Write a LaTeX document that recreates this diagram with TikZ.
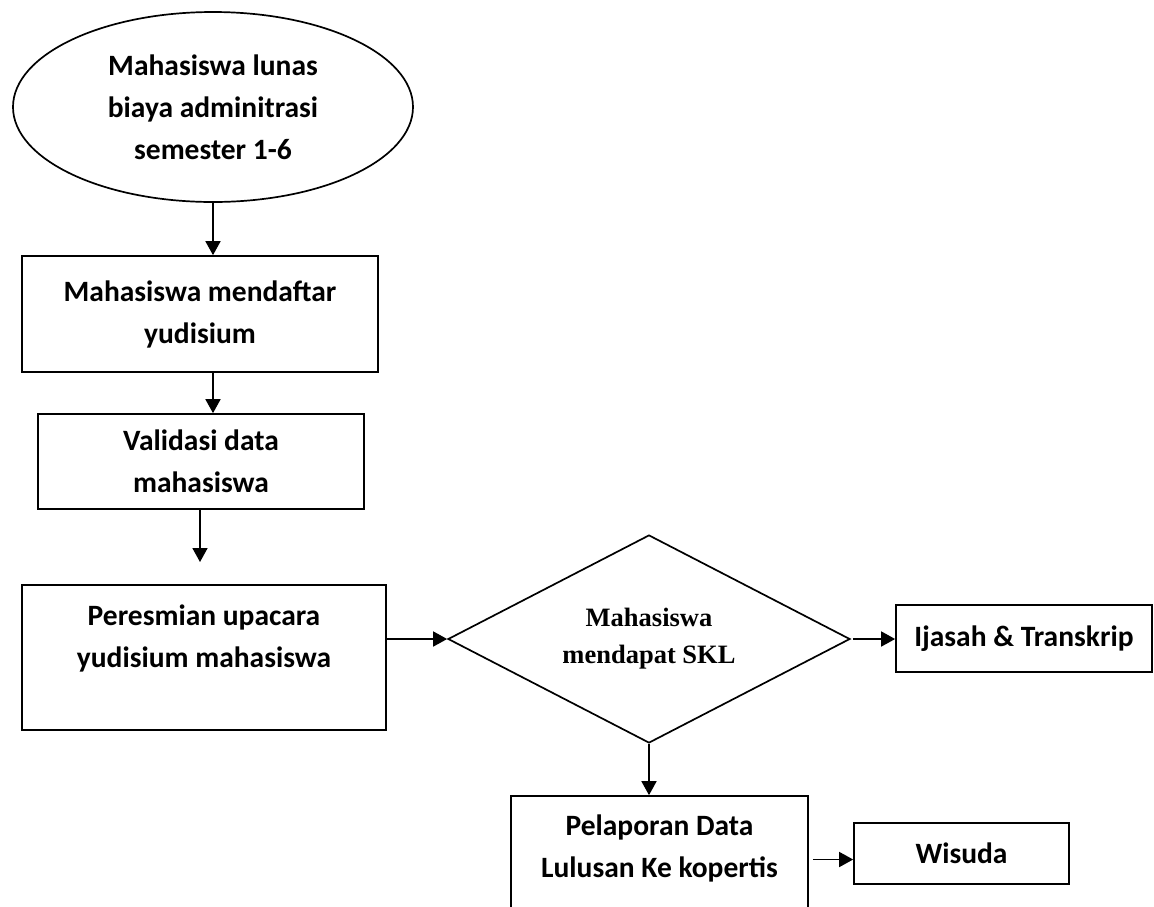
\documentclass[tikz,border=0pt]{standalone}
\usepackage{fontspec}
\setmainfont{Carlito}
\newfontfamily\fonttimes{Liberation Serif}
\usetikzlibrary{positioning,shapes.geometric,arrows.meta}

\tikzset{
    kotak/.style={draw, rectangle, line width=1.7pt, inner sep=0pt, align=center,
        font=\fontsize{29.5}{42}\selectfont\bfseries},
    mulai/.style={draw, ellipse, line width=1.7pt, inner sep=0pt, align=center,
        font=\fontsize{29.5}{42}\selectfont\bfseries},
    keputusan/.style={draw, diamond, aspect=1.93, line width=1.7pt, inner sep=0pt, align=center,
        font=\fontsize{26.5}{37}\selectfont\fonttimes\bfseries},
    panah/.style={line width=1.7pt, -{Triangle[length=14pt,width=15pt]}}
}

\begin{document}
\begin{tikzpicture}[x=1pt,y=-1pt]
    % Batas gambar
    \useasboundingbox (0,0) rectangle (1154,906);
    \clip (0,0) rectangle (1154,906);

    % Alur utama (kiri)
    \node[mulai, minimum width=400pt, minimum height=190pt] (lunas) at (213,107)
        {Mahasiswa lunas\\biaya adminitrasi\\semester 1-6};
    \node[kotak, minimum width=356pt, minimum height=116pt] (daftar) at (200,314)
        {Mahasiswa mendaftar\\yudisium};
    \node[kotak, minimum width=326pt, minimum height=95pt] (validasi) at (201,461.5)
        {Validasi data\\mahasiswa};
    \coordinate (ujung) at (200,562);
    \node[kotak, minimum width=364pt, minimum height=145pt] (resmi) at (204,657.5)
        {Peresmian upacara\\yudisium mahasiswa\\~};

    % Keputusan SKL
    \node[keputusan, minimum width=402pt, minimum height=208pt] (skl) at (649,639)
        {Mahasiswa\\mendapat SKL};
    \node[kotak, minimum width=256pt, minimum height=67pt] (ijasah) at (1024,638.5)
        {Ijasah \& Transkrip};
    \node[kotak, minimum width=297pt, minimum height=142pt] (lapor) at (659.5,867)
        {Pelaporan Data\\Lulusan Ke kopertis\\~};
    \node[kotak, minimum width=215pt, minimum height=61pt] (wisuda) at (961.5,853.5)
        {Wisuda};

    % Panah
    \draw[panah] (lunas.south) -- (lunas.south |- daftar.north);
    \draw[panah] (daftar.south -| lunas.south) -- (validasi.north -| lunas.south);
    \draw[panah] (validasi.south -| ujung) -- (ujung);
    \draw[panah] (resmi.east |- skl.west) -- (skl.west);
    \draw[panah] ([xshift=2pt]skl.east) -- (ijasah.west |- skl.east);
    \draw[panah] (skl.south) -- (skl.south |- lapor.north);
    \draw[panah] ([xshift=4pt, yshift=-6pt]lapor.east |- wisuda.west) -- ([yshift=-6pt]wisuda.west);
\end{tikzpicture}
\end{document}
